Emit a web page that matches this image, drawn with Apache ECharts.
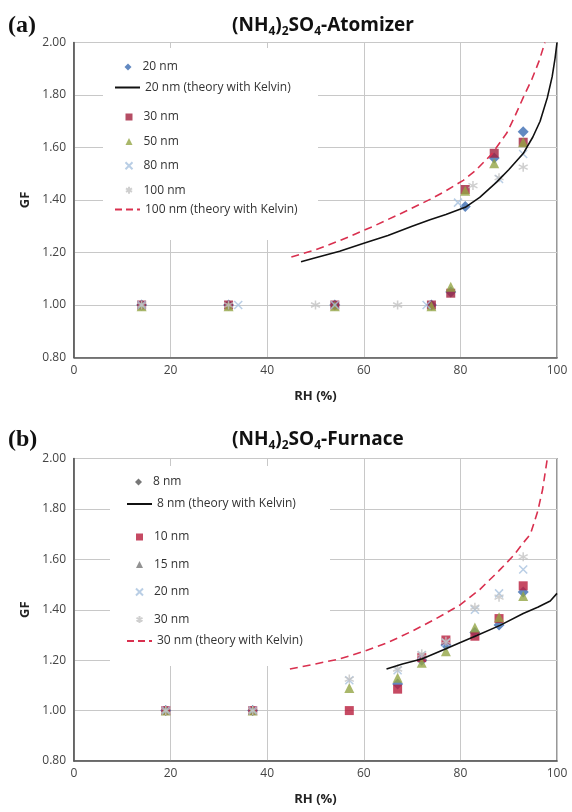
<!DOCTYPE html>
<html>
<head>
<meta charset="utf-8">
<script src="https://cdn.jsdelivr.net/npm/echarts@6/dist/echarts.min.js"></script>
<style>
html, body { margin: 0; padding: 0; background: #fff; }
#chartA { width: 572px; height: 412px; }
#chartB { width: 572px; height: 400px; }
</style>
</head>
<body>
<div id="chartA"></div>
<div id="chartB"></div>
<script>
// axis ticks
const rhTicks = [0, 20, 40, 60, 80, 100];
const gfTicks = [0.8, 1.0, 1.2, 1.4, 1.6, 1.8, 2.0];

// (a) atomizer, measured GF
const rhA20 = [14, 32, 54, 74, 78, 81, 87, 93];
const gfA20 = [1.00, 1.00, 1.00, 1.00, 1.05, 1.375, 1.56, 1.66];
const rhA30 = [14, 32, 54, 74, 78, 81, 87, 93];
const gfA30 = [1.00, 1.00, 1.00, 1.00, 1.045, 1.44, 1.578, 1.62];
const rhA50 = [14, 32, 54, 74, 78, 81, 87, 93];
const gfA50 = [0.995, 0.995, 0.995, 0.995, 1.07, 1.435, 1.54, 1.62];
const rhA80 = [14, 34, 54, 73, 79.5, 88, 93];
const gfA80 = [1.00, 1.00, 1.00, 1.00, 1.39, 1.48, 1.575];
const rhA100 = [14, 32, 50, 67, 82.6, 88, 93];
const gfA100 = [1.00, 1.00, 1.00, 1.00, 1.455, 1.485, 1.525];

// (a) theory with Kelvin
const rhA20k = [47, 50, 55, 60, 65, 70, 73.7, 77, 81, 84, 87.5, 90, 93, 95, 96.5, 98, 99, 99.6, 100];
const gfA20k = [1.165, 1.18, 1.205, 1.235, 1.265, 1.30, 1.325, 1.345, 1.372, 1.41, 1.468, 1.515, 1.577, 1.64, 1.70, 1.79, 1.87, 1.94, 2.0];
const rhA100k = [45, 50, 55, 62, 69, 74, 77, 80.6, 83, 86.5, 89.6, 91.3, 93, 94.8, 96.3, 97.5];
const gfA100k = [1.183, 1.21, 1.245, 1.30, 1.36, 1.405, 1.435, 1.475, 1.51, 1.575, 1.655, 1.72, 1.79, 1.86, 1.93, 2.0];

// (b) furnace, measured GF
const rhB8 = [19, 37, 67, 72, 77, 83, 88, 93];
const gfB8 = [1.00, 1.00, 1.105, 1.20, 1.26, 1.31, 1.34, 1.47];
const rhB10 = [19, 37, 57, 67, 72, 77, 83, 88, 93];
const gfB10 = [1.00, 1.00, 1.00, 1.085, 1.21, 1.28, 1.295, 1.365, 1.495];
const rhB15 = [19, 37, 57, 67, 72, 77, 83, 88, 93];
const gfB15 = [1.00, 1.00, 1.09, 1.13, 1.19, 1.235, 1.33, 1.37, 1.455];
const rhB20 = [19, 37, 57, 67, 72, 77, 83, 88, 93];
const gfB20 = [1.00, 1.00, 1.12, 1.16, 1.22, 1.27, 1.40, 1.465, 1.56];
const rhB30 = [19, 37, 57, 67, 72, 77, 83, 88, 93];
const gfB30 = [1.00, 1.00, 1.125, 1.165, 1.225, 1.275, 1.41, 1.45, 1.61];

// (b) theory with Kelvin
const rhB8k = [64.7, 68, 72, 77, 80, 83.4, 88.2, 93, 96, 98.6, 100];
const gfB8k = [1.165, 1.185, 1.205, 1.245, 1.27, 1.298, 1.338, 1.385, 1.41, 1.435, 1.465];
const rhB30k = [44.7, 50, 55, 60, 65, 70, 75, 80, 84, 88, 91, 93, 94.5, 96, 97, 98];
const gfB30k = [1.165, 1.185, 1.205, 1.235, 1.27, 1.315, 1.365, 1.42, 1.48, 1.555, 1.615, 1.665, 1.70, 1.79, 1.875, 2.0];

const BLUE = "#3b6bb2";
const RED = "#a3213d";
const OLIVE = "#94a545";
const LBLUE = "#a8c2df";
const GRAY = "#c3c3c3";
const DASH = "#d9304f";
const X_PATH = "path://M0,0L10,10M10,0L0,10";
const AST_PATH = "path://M5,0L5,10M0.7,2.5L9.3,7.5M9.3,2.5L0.7,7.5";
// legend icons for the theory lines (filled thin bars)
const SOLID_ICON = "path://M0,0H25V2H0Z";
const DASH_ICON = "path://M0,0H7V2H0Z M11,0H18V2H11Z M22,0H25V2H22Z";
const FONT = "Open Sans";

const pairs = (xs, ys) => xs.map((x, i) => [x, ys[i]]);

const markSeries = (name, xs, ys, symbol, color, size) => {
    const stroke = symbol.indexOf("path://") === 0;
    return {
        name: name,
        type: "scatter",
        symbol: symbol,
        symbolSize: size,
        itemStyle: stroke
            ? { color: "rgba(0,0,0,0)", borderColor: color, borderWidth: 1.5 }
            : { color: color },
        data: pairs(xs, ys),
    };
};

const lineSeries = (name, xs, ys, color, dashed) => ({
    name: name,
    type: "line",
    symbol: "none",
    lineStyle: { color: color, width: 1.6, type: dashed ? [8, 5] : "solid" },
    itemStyle: { color: color },
    data: pairs(xs, ys),
});

const legendText = { fontFamily: FONT, fontSize: 12, color: "#333", lineHeight: 14 };

// legend for symbol rows
const markLegend = (left, top, gap, data) => ({
    orient: "vertical",
    left: left,
    top: top,
    padding: 0,
    itemGap: gap,
    itemWidth: 7,
    itemHeight: 7,
    textStyle: Object.assign({ padding: [0, 0, 0, 6] }, legendText),
    data: data,
});

// legend for theory-line rows
const lineLegend = (left, top, name, dashed) => ({
    orient: "vertical",
    left: left,
    top: top,
    padding: 0,
    itemWidth: 25,
    itemHeight: 2,
    textStyle: legendText,
    data: [{ name: name, icon: dashed ? DASH_ICON : SOLID_ICON }],
});

const titleText = (tail) =>
    "{a|(NH}{s|4}{a|)}{s|2}{a|SO}{s|4}{a|-" + tail + "}";

const baseOption = (grid, tail, label, titleTop, labelTop, box, legends, series) => ({
    animation: false,
    title: {
        text: titleText(tail),
        left: 227,
        top: titleTop,
        textStyle: {
            rich: {
                a: { fontSize: 19, fontWeight: "bold", fontFamily: FONT, color: "#111", lineHeight: 24 },
                s: { fontSize: 12, fontWeight: "bold", fontFamily: FONT, color: "#111", lineHeight: 13, verticalAlign: "bottom" },
            },
        },
    },
    graphic: [
        {
            type: "text",
            left: 8,
            top: labelTop,
            style: { text: label, font: 'bold 24px "Liberation Serif"', fill: "#111" },
        },
        {
            // white backing of the legend block
            type: "rect",
            left: box[0],
            top: box[1],
            z: 1,
            shape: { width: box[2], height: box[3] },
            style: { fill: "#fff" },
        },
    ],
    grid: Object.assign({ left: 74, right: 15, show: true, borderColor: "#555", borderWidth: 1.2 }, grid),
    xAxis: {
        type: "value",
        min: rhTicks[0],
        max: rhTicks[rhTicks.length - 1],
        interval: 20,
        name: "RH (%)",
        nameLocation: "middle",
        nameGap: 32,
        nameTextStyle: { fontFamily: FONT, fontWeight: "bold", fontSize: 13, color: "#222" },
        axisLine: { show: true, lineStyle: { color: "#555", width: 1.5 } },
        axisTick: { show: false },
        axisLabel: { fontFamily: FONT, fontSize: 12, color: "#444", margin: 7 },
        splitLine: { show: true, lineStyle: { color: "#c8c8c8", width: 1 } },
    },
    yAxis: {
        type: "value",
        min: gfTicks[0],
        max: gfTicks[gfTicks.length - 1],
        interval: 0.2,
        name: "GF",
        nameLocation: "middle",
        nameGap: 37,
        nameTextStyle: { fontFamily: FONT, fontWeight: "bold", fontSize: 13, color: "#222" },
        axisLine: { show: true, lineStyle: { color: "#555", width: 1.5 } },
        axisTick: { show: false },
        axisLabel: { fontFamily: FONT, fontSize: 12, color: "#444", margin: 8, formatter: (v) => v.toFixed(2) },
        splitLine: { show: true, lineStyle: { color: "#c8c8c8", width: 1 } },
    },
    legend: legends,
    series: series,
});

// (a) 雾化器
const chartA = echarts.init(document.getElementById("chartA"));
chartA.setOption(
    baseOption(
        { top: 42.5, bottom: 54.5 },
        "Atomizer",
        "(a)",
        9,
        14,
        [103, 48, 215, 192],
        [
            markLegend(124.5, 60, 10, ["20 nm"]),
            lineLegend(115, 80.5, "20 nm (theory with Kelvin)", false),
            markLegend(124.5, 110, 10.4, ["30 nm", "50 nm", "80 nm", "100 nm"]),
            lineLegend(115, 202.5, "100 nm (theory with Kelvin)", true),
        ],
        [
            lineSeries("20 nm (theory with Kelvin)", rhA20k, gfA20k, "#111", false),
            lineSeries("100 nm (theory with Kelvin)", rhA100k, gfA100k, DASH, true),
            markSeries("20 nm", rhA20, gfA20, "diamond", BLUE, 11),
            markSeries("30 nm", rhA30, gfA30, "rect", RED, 9),
            markSeries("50 nm", rhA50, gfA50, "triangle", OLIVE, 10),
            markSeries("80 nm", rhA80, gfA80, X_PATH, LBLUE, 8),
            markSeries("100 nm", rhA100, gfA100, AST_PATH, GRAY, 9),
        ]
    )
);

// (b) 炉子
const chartB = echarts.init(document.getElementById("chartB"));
chartB.setOption(
    baseOption(
        { top: 46.5, bottom: 51 },
        "Furnace",
        "(b)",
        11,
        16,
        [110, 54, 220, 200],
        [
            markLegend(135, 63, 10, [{ name: "8 nm", itemStyle: { color: "#555" } }]),
            lineLegend(127, 85, "8 nm (theory with Kelvin)", false),
            markLegend(135, 118, 13.5, [
                "10 nm",
                { name: "15 nm", itemStyle: { color: "#777" } },
                "20 nm",
                "30 nm",
            ]),
            lineLegend(127, 222, "30 nm (theory with Kelvin)", true),
        ],
        [
            lineSeries("8 nm (theory with Kelvin)", rhB8k, gfB8k, "#111", false),
            lineSeries("30 nm (theory with Kelvin)", rhB30k, gfB30k, DASH, true),
            markSeries("8 nm", rhB8, gfB8, "diamond", BLUE, 11),
            markSeries("10 nm", rhB10, gfB10, "rect", "#b81d3c", 9),
            markSeries("15 nm", rhB15, gfB15, "triangle", OLIVE, 10),
            markSeries("20 nm", rhB20, gfB20, X_PATH, LBLUE, 8),
            markSeries("30 nm", rhB30, gfB30, AST_PATH, GRAY, 9),
        ]
    )
);
</script>
</body>
</html>
